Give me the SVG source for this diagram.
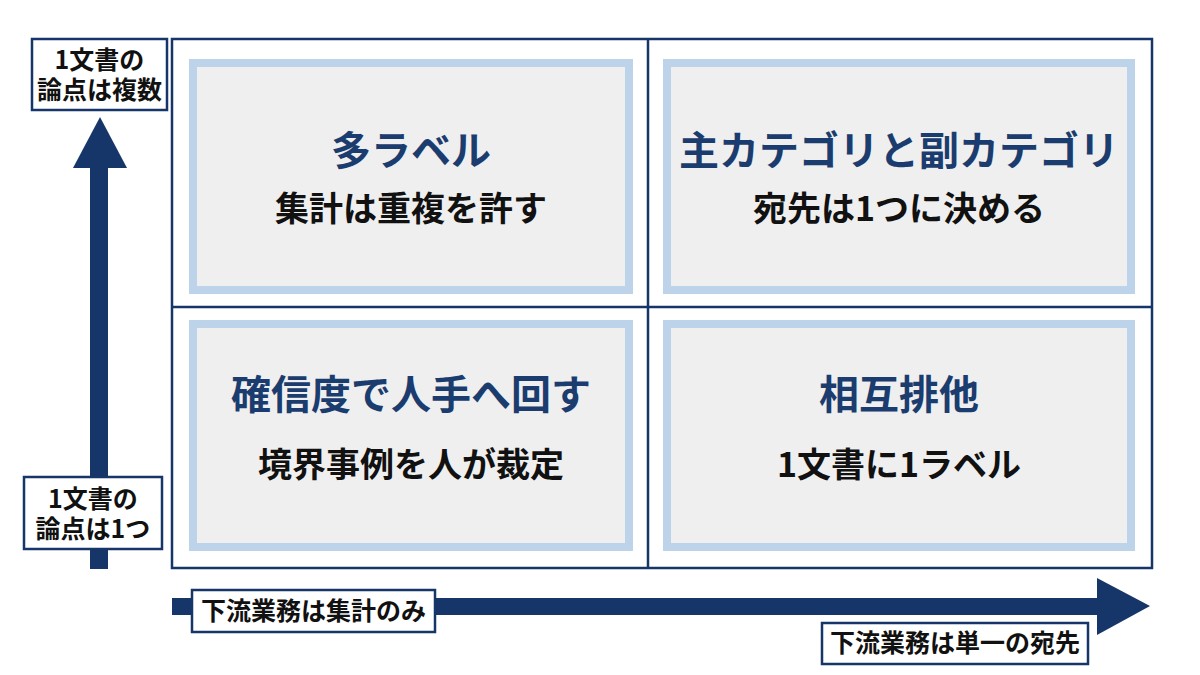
<svg xmlns="http://www.w3.org/2000/svg" width="1200" height="675" viewBox="0 0 1200 675">
<style>
.cell{fill:#efefef;stroke:#bdd3e9;stroke-width:8}
.frame{fill:#ffffff;stroke:#16366a;stroke-width:2.5}
.div{stroke:#16366a;stroke-width:2.5}
.lbl{fill:#ffffff;stroke:#16366a;stroke-width:2.5}
.arrow{fill:#16366a}
text{font-family:"Noto Sans CJK JP","Noto Sans",sans-serif;font-weight:bold;text-anchor:middle}
.title{font-size:40px;fill:#1b3c6e}
.sub{font-size:34px;fill:#111111}
.lt{font-size:25px;fill:#111111}
</style>
<rect width="1200" height="675" fill="#ffffff"/>
<g id="connectors">
<rect class="arrow" x="90" y="165" width="18" height="404"/>
<polygon class="arrow" points="100,117 127,168 73,168"/>
<rect class="arrow" x="172" y="598" width="930" height="17"/>
<polygon class="arrow" points="1150,606 1097,578 1097,635"/>
</g>
<g id="frame">
<rect class="frame" x="172" y="39" width="980" height="529"/>
<line class="div" x1="648" y1="39" x2="648" y2="568"/>
<line class="div" x1="172" y1="307" x2="1152" y2="307"/>
</g>
<g id="cell-tl">
<rect class="cell" x="193" y="63" width="436" height="227"/>
<text class="title" x="411" y="165">多ラベル</text>
<text class="sub" x="411" y="221">集計は重複を許す</text>
</g>
<g id="cell-tr">
<rect class="cell" x="667" y="63" width="464" height="227"/>
<text class="title" x="899" y="165">主カテゴリと副カテゴリ</text>
<text class="sub" x="899" y="221">宛先は1つに決める</text>
</g>
<g id="cell-bl">
<rect class="cell" x="193" y="324" width="436" height="223"/>
<text class="title" x="411" y="409">確信度で人手へ回す</text>
<text class="sub" x="411" y="477">境界事例を人が裁定</text>
</g>
<g id="cell-br">
<rect class="cell" x="667" y="324" width="464" height="223"/>
<text class="title" x="899" y="409">相互排他</text>
<text class="sub" x="899" y="477">1文書に1ラベル</text>
</g>
<g id="label-top">
<rect class="lbl" x="32" y="39" width="135" height="71"/>
<text class="lt"><tspan x="99.5" y="69">1文書の</tspan><tspan x="99.5" y="99">論点は複数</tspan></text>
</g>
<g id="label-bottom">
<rect class="lbl" x="24" y="477" width="138" height="72"/>
<text class="lt"><tspan x="93" y="508">1文書の</tspan><tspan x="93" y="538">論点は1つ</tspan></text>
</g>
<g id="label-left">
<rect class="lbl" x="192" y="590" width="243" height="42"/>
<text class="lt" x="313.5" y="620">下流業務は集計のみ</text>
</g>
<g id="label-right">
<rect class="lbl" x="822" y="623" width="266" height="41"/>
<text class="lt" x="955" y="652">下流業務は単一の宛先</text>
</g>
</svg>
